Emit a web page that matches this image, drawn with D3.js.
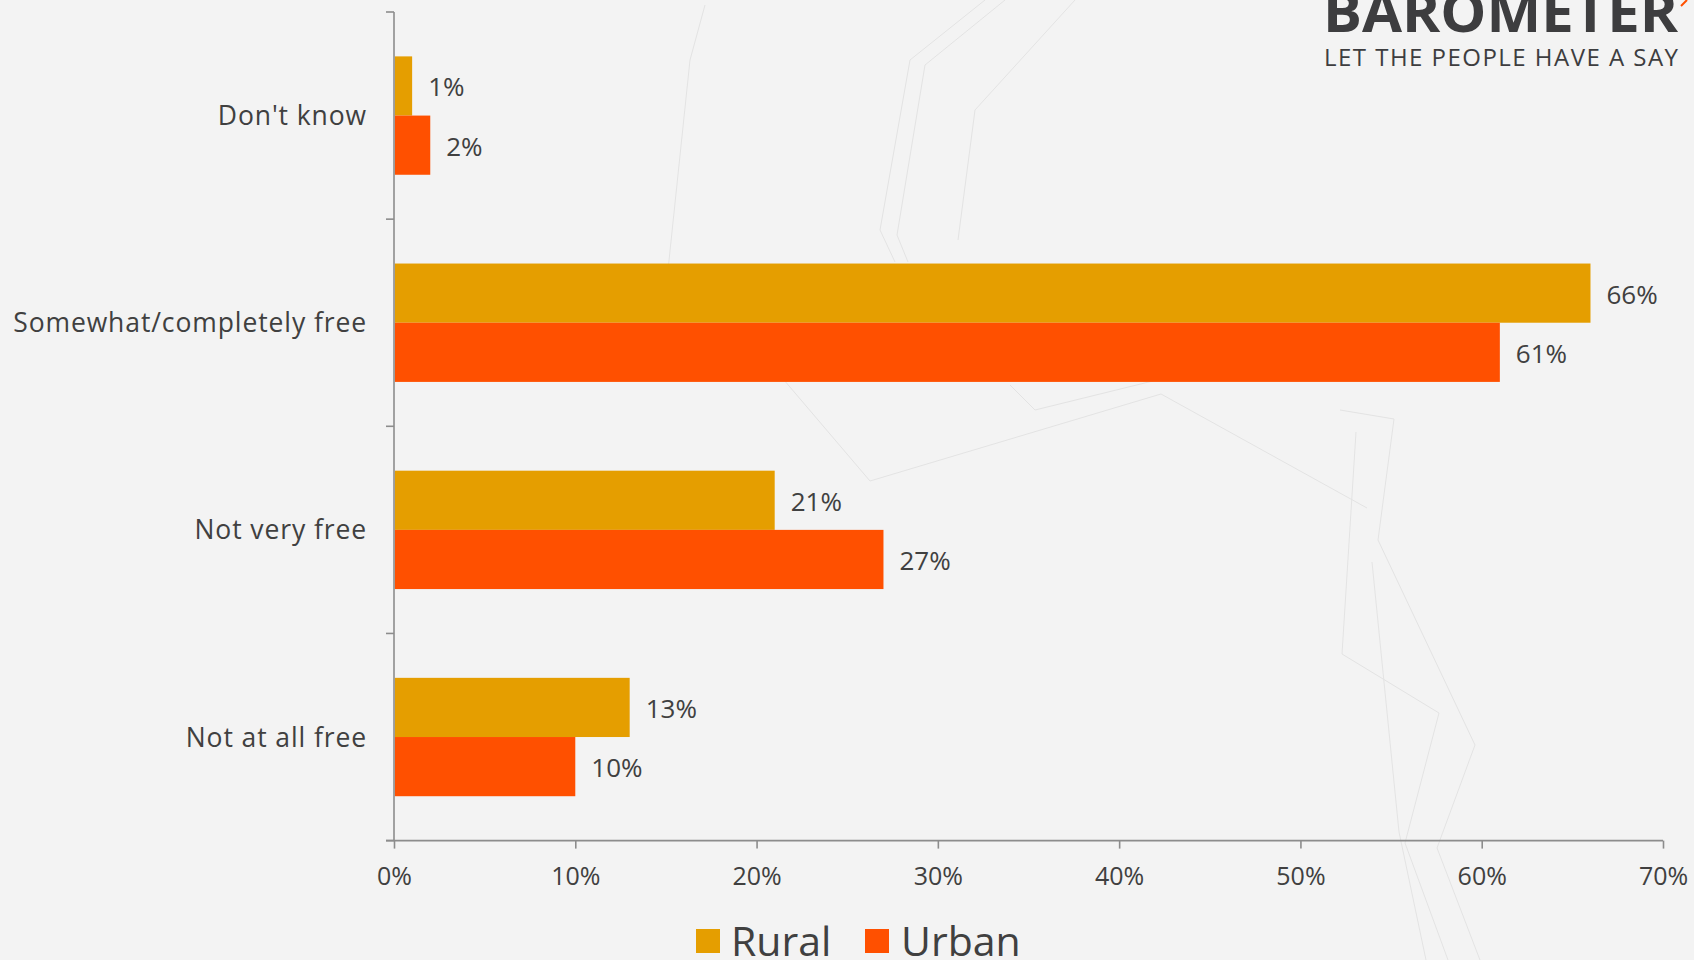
<!DOCTYPE html>
<html>
<head>
<meta charset="utf-8">
<script src="https://cdn.jsdelivr.net/npm/d3@7"></script>
<style>
  html, body { margin: 0; padding: 0; background: #f3f3f3; }
  svg { display: block; }
  text { font-family: "Open Sans", "Liberation Sans", sans-serif; fill: #404040; }
</style>
</head>
<body>
<svg id="chart" width="1694" height="960"></svg>
<script>
// ---- data ----
const categories = ["Don't know", "Somewhat/completely free", "Not very free", "Not at all free"];
const seriesNames = ["Rural", "Urban"];
const ruralValues = [1, 66, 21, 13];
const urbanValues = [2, 61, 27, 10];
const xTickValues = [0, 10, 20, 30, 40, 50, 60, 70];
const seriesColors = ["#E59E00", "#FF5000"];

(function () {
const W = 1694, H = 960;
const svg = d3.select("#chart");

// background
svg.append("rect").attr("width", W).attr("height", H).attr("fill", "#f3f3f3");

// faint decorative background lines
const deco = [
  [[705,5],[690,60],[668,270]],
  [[985,0],[910,60],[880,230],[895,262]],
  [[1005,0],[925,65],[897,235],[908,262]],
  [[1075,0],[975,110],[958,240]],
  [[778,373],[870,481],[1161,394],[1367,508]],
  [[1010,385],[1035,410],[1165,378]],
  [[1340,410],[1394,419],[1378,540],[1475,745],[1437,848],[1480,960]],
  [[1356,432],[1342,654],[1439,713],[1405,843],[1448,960]],
  [[1372,562],[1399,832],[1426,960]]
];
svg.append("g").selectAll("path").data(deco).join("path")
  .attr("d", d3.line())
  .attr("fill", "none").attr("stroke", "#e3e3e3").attr("stroke-width", 1);

// ---- scales ----
const pLeft = 394, pRight = 1663, pTop = 12, pBottom = 840.6;
const x = d3.scaleLinear().domain([0, 70]).range([pLeft, pRight]);
const y0 = d3.scaleBand().domain(categories).range([pTop, pBottom]).padding(0);
const y1 = d3.scaleBand().domain(seriesNames).range([0, y0.bandwidth()]).paddingInner(0).paddingOuter(0.75);
const color = d3.scaleOrdinal().domain(seriesNames).range(seriesColors);

const rows = categories.map((c, i) => ({
  cat: c,
  vals: [{s: "Rural", v: ruralValues[i]}, {s: "Urban", v: urbanValues[i]}]
}));

// ---- bars ----
const g = svg.append("g");
const grp = g.selectAll("g.cat").data(rows).join("g")
  .attr("transform", d => `translate(0,${y0(d.cat)})`);

grp.selectAll("rect").data(d => d.vals).join("rect")
  .attr("x", x(0) + 0.8)
  .attr("y", d => y1(d.s))
  .attr("width", d => x(d.v) - x(0) - 0.8)
  .attr("height", y1.bandwidth())
  .attr("fill", d => color(d.s));

grp.selectAll("text.val").data(d => d.vals).join("text")
  .attr("class", "val")
  .attr("x", d => x(d.v) + 16)
  .attr("y", d => y1(d.s) + y1.bandwidth() / 2 + 10.5)
  .attr("font-size", 26)
  .text(d => d.v + "%");

// ---- category labels ----
svg.append("g").selectAll("text").data(categories).join("text")
  .attr("x", pLeft - 27)
  .attr("y", d => y0(d) + y0.bandwidth() / 2 + 9.5)
  .attr("text-anchor", "end")
  .attr("font-size", 26.5)
  .attr("letter-spacing", 0.9)
  .text(d => d);

// ---- axes ----
const axisColor = "#8c8c8c";
svg.append("line").attr("x1", pLeft).attr("x2", pLeft).attr("y1", pTop).attr("y2", pBottom)
  .attr("stroke", axisColor).attr("stroke-width", 1.6);
const boundaries = categories.map(c => y0(c)).concat([y0.range()[1]]);
svg.append("g").selectAll("line").data(boundaries).join("line")
  .attr("x1", pLeft - 8).attr("x2", pLeft).attr("y1", d => d).attr("y2", d => d)
  .attr("stroke", axisColor).attr("stroke-width", 1.6);

const xAxis = d3.axisBottom(x).tickValues(xTickValues).tickFormat(d => d + "%").tickSize(8).tickSizeOuter(0);
const xg = svg.append("g").attr("transform", `translate(0,${pBottom})`).call(xAxis);
xg.select(".domain").remove();
xg.selectAll(".tick line").attr("stroke", axisColor).attr("stroke-width", 1.6);
xg.selectAll(".tick text")
  .attr("y", 44).attr("dy", 0)
  .attr("font-size", 25)
  .attr("font-family", "\"Open Sans\", sans-serif")
  .attr("fill", "#404040");
svg.append("line").attr("x1", pLeft - 8).attr("x2", pRight).attr("y1", pBottom).attr("y2", pBottom)
  .attr("stroke", axisColor).attr("stroke-width", 1.6);

// ---- legend ----
const legendItems = [{s: "Rural", x: 696, tx: 731}, {s: "Urban", x: 865, tx: 901}];
const lg = svg.append("g").selectAll("g").data(legendItems).join("g");
lg.append("rect").attr("x", d => d.x).attr("y", 929).attr("width", 24).attr("height", 24)
  .attr("fill", d => color(d.s));
lg.append("text").attr("x", d => d.tx).attr("y", 956).attr("font-size", 41).text(d => d.s);

// ---- logo ----
svg.append("text").attr("x", 1323).attr("y", 32)
  .attr("font-size", 56).attr("font-weight", 700).style("fill", "#3d3d3f")
  .attr("textLength", 355).attr("lengthAdjust", "spacingAndGlyphs")
  .text("BAROMETER");
svg.append("text").attr("x", 1324).attr("y", 65.5)
  .attr("font-size", 24).style("fill", "#3d3d3f")
  .attr("textLength", 354).attr("lengthAdjust", "spacing")
  .text("LET THE PEOPLE HAVE A SAY");
svg.append("path").attr("d", "M1681,6 L1687,0").attr("stroke", "#FF5000").attr("stroke-width", 2);
})();
</script>
</body>
</html>
